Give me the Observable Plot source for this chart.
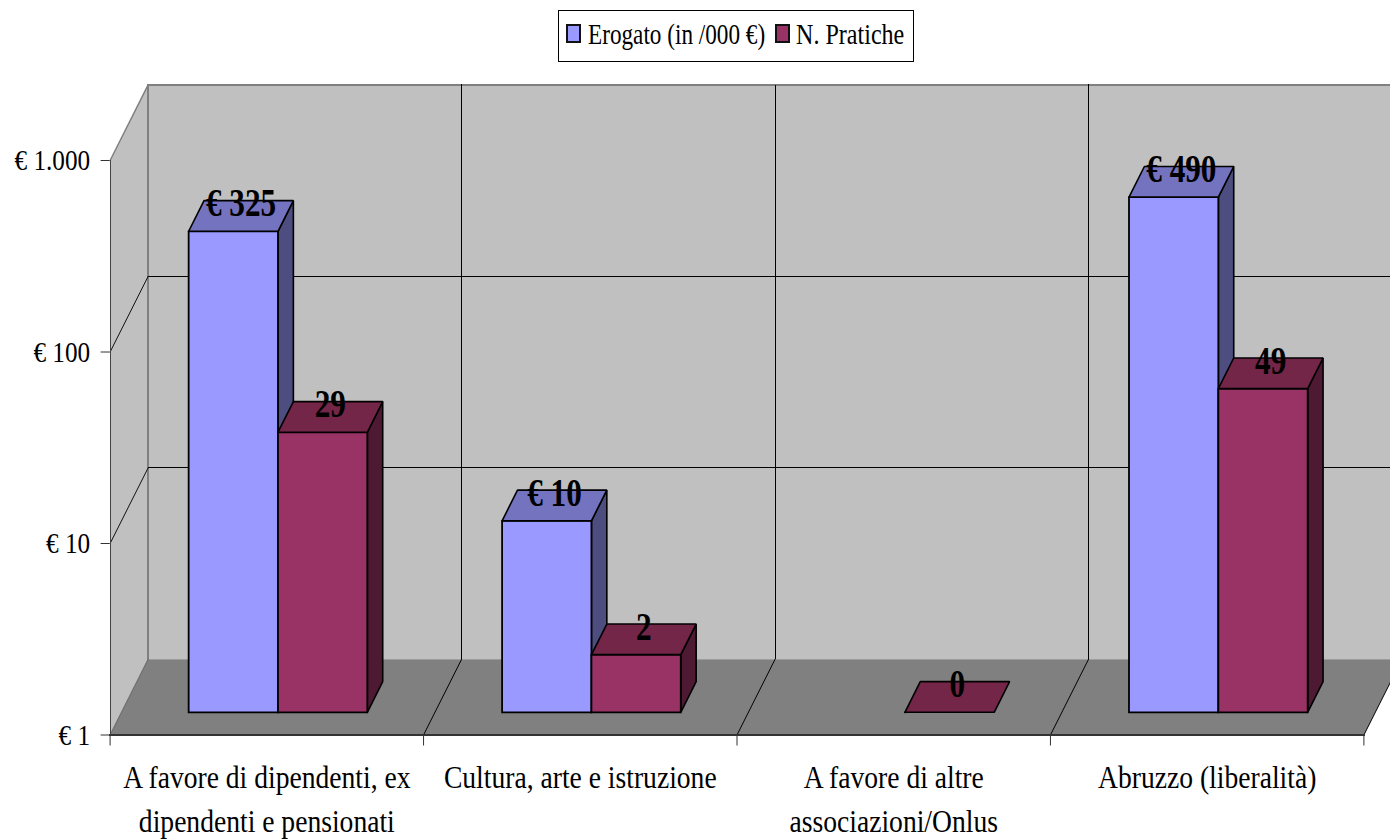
<!DOCTYPE html>
<html lang="it">
<head>
<meta charset="utf-8">
<title>Erogato e pratiche</title>
<script src="https://cdn.jsdelivr.net/npm/d3@7"></script>
<script src="https://cdn.jsdelivr.net/npm/@observablehq/plot@0.6"></script>
<style>
  html, body { margin: 0; padding: 0; background: #fff; overflow: hidden; }
  #wrap { position: relative; width: 1390px; height: 839px; font-family: "Liberation Serif", serif; }
  #legend { position: absolute; left: 558px; top: 10px; width: 354px; height: 50px; background: #fff; border: 1px solid #000; box-sizing: content-box; }
  #legend i { position: absolute; top: 13px; width: 11px; height: 15px; border: 2px solid #111; display: block; }
  #legend span { position: absolute; top: 8px; font-size: 29px; line-height: 30px; white-space: nowrap; transform-origin: 0 50%; color: #000; }
</style>
</head>
<body>
<div id="wrap">
  <div id="chart"></div>
  <div id="legend">
    <i style="left:7px;background:#9999FF"></i><span style="left:29px" id="l1">Erogato (in /000 €)</span>
    <i style="left:216px;background:#993366"></i><span style="left:237px" id="l2">N. Pratiche</span>
  </div>
</div>
<script>
const categories = [
  ["A favore di dipendenti, ex", "dipendenti e pensionati"],
  ["Cultura, arte e istruzione"],
  ["A favore di altre", "associazioni/Onlus"],
  ["Abruzzo (liberalità)"]
];
const erogato = [325, 10, null, 490];
const pratiche = [29, 2, 0, 49];
const yTicks = [1, 10, 100, 1000];
const xTicks = [0, 1, 2, 3, 4];
const blueFaces = {front: "#9999FF", top: "#7373BF", side: "#4D4D80"};
const redFaces = {front: "#993366", top: "#732647", side: "#4D1933"};

// Oblique projection: a depth of 1 shifts a point from the front plane to the back wall.
const depthX = 0.1213;      // in category units
const depthY = 0.395;       // in decades of the log scale
const pt = (x, v, d) => ({x: x + d * depthX, y: Math.max(v, 1) * Math.pow(10, d * depthY)});
const poly = (pts, fill, stroke, strokeWidth) =>
  Plot.line([...pts, pts[0]], {x: "x", y: "y", fill, stroke, strokeWidth, curve: "linear", strokeLinejoin: "miter", strokeLinecap: "square"});
const seg = (a, b, stroke, strokeWidth, crisp) =>
  Plot.line([a, b], {x: "x", y: "y", stroke, strokeWidth, curve: "linear", shapeRendering: crisp ? "crispEdges" : "auto"});

const n = categories.length, ceil = 1000;
const marks = [];

// walls and floor
marks.push(poly([pt(0, 1, 0), pt(0, ceil, 0), pt(0, ceil, 1), pt(0, 1, 1)], "#C0C0C0", "none", 0));
marks.push(poly([pt(0, 1, 1), pt(0, ceil, 1), pt(n, ceil, 1), pt(n, 1, 1)], "#C0C0C0", "none", 0));
marks.push(poly([pt(0, 1, 0), pt(n, 1, 0), pt(n, 1, 1), pt(0, 1, 1)], "#808080", "none", 0));

// grid
marks.push(seg(pt(0, ceil, 1), pt(n, ceil, 1), "#808080", 2, true));
marks.push(seg(pt(0, 1, 1), pt(0, ceil, 1), "#808080", 2, true));
marks.push(seg(pt(0, ceil, 0), pt(0, ceil, 1), "#808080", 1.5));
marks.push(seg(pt(0, 1, 0), pt(0, 1, 1), "#707070", 1.2));
for (const v of [10, 100]) {
  marks.push(seg(pt(0, v, 1), pt(n, v, 1), "#000", 1, true));
  marks.push(seg(pt(0, v, 0), pt(0, v, 1), "#111", 1));
}
for (const c of [1, 2, 3]) {
  marks.push(seg(pt(c, 1, 1), pt(c, ceil, 1), "#000", 1, true));
  marks.push(seg(pt(c, 1, 0), pt(c, 1, 1), "#000", 1));
}
marks.push(seg(pt(4, 1, 0), pt(4, 1, 1), "#000", 1));

// axes
marks.push(Plot.axisY({ticks: yTicks, tickSize: 9, tickPadding: 11, stroke: "#333", tickFormat: d => "€ " + d3.format(",")(d).replace(",", "."), fontSize: 30, fill: "#000", label: null}));
marks.push(Plot.axisX({ticks: xTicks, tickSize: 11, stroke: "#333", tickFormat: () => "", label: null}));
marks.push(seg(pt(0, 1, 0), pt(n, 1, 0), "#333", 2, true));
marks.push(seg(pt(0, 1, 0), pt(0, ceil, 0), "#444", 1, true));

// bars
const inset = 0.2142, barW = 0.285, d0 = 0.3, d1 = 0.705;
const labels = [];
function bar(i, slot, v, faces, fmt) {
  if (v == null) return;
  const xa = i + inset + slot * barW, xb = xa + barW;
  if (v > 1) {
    marks.push(poly([pt(xb, 1, d0), pt(xb, v, d0), pt(xb, v, d1), pt(xb, 1, d1)], faces.side, "#000", 1.6));
    marks.push(poly([pt(xa, 1, d0), pt(xa, v, d0), pt(xb, v, d0), pt(xb, 1, d0)], faces.front, "#000", 1.8));
  }
  marks.push(poly([pt(xa, v, d0), pt(xb, v, d0), pt(xb, v, d1), pt(xa, v, d1)], faces.top, "#000", 1.6));
  labels.push({x: pt((xa + xb) / 2, v, (d0 + d1) / 2).x, y: pt(0, v, d1).y, text: fmt(v)});
}
categories.forEach((_, i) => {
  bar(i, 0, erogato[i], blueFaces, v => "€ " + v);
  bar(i, 1, pratiche[i], redFaces, v => String(v));
});
marks.push(Plot.text(labels, {x: "x", y: "y", text: "text", dy: 3, fontSize: 40, fontWeight: "bold", fill: "#000"}));

// category labels
const catRows = categories.flatMap((lines, i) => lines.map((t, j) => ({x: i + 0.5, y: 1, t, j})));
marks.push(Plot.text(catRows.filter(d => d.j === 0), {x: "x", y: "y", text: "t", dy: 43, fontSize: 31, fill: "#000"}));
marks.push(Plot.text(catRows.filter(d => d.j === 1), {x: "x", y: "y", text: "t", dy: 87, fontSize: 31, fill: "#000"}));

const chart = Plot.plot({
  width: 1390,
  height: 839,
  marginLeft: 109.6,
  marginRight: 26.6,
  marginTop: 160,
  marginBottom: 104.5,
  style: {fontFamily: "'Liberation Serif', serif", background: "#fff", overflow: "visible"},
  x: {type: "linear", domain: [0, 4], axis: null},
  y: {type: "log", domain: [1, 1000], axis: null},
  marks
});
document.getElementById("chart").appendChild(chart);

// condense the type, as in the reference
const squeezeBySize = {30: 0.84, 31: 0.89, 40: 0.78};
chart.querySelectorAll("text").forEach(t => {
  const len = t.getComputedTextLength();
  const k = squeezeBySize[parseFloat(getComputedStyle(t).fontSize)];
  if (len > 0 && k) {
    t.setAttribute("textLength", len * k);
    t.setAttribute("lengthAdjust", "spacingAndGlyphs");
  }
});
document.getElementById("l1").style.transform = "scaleX(0.8)";
document.getElementById("l2").style.transform = "scaleX(0.83)";
</script>
</body>
</html>
